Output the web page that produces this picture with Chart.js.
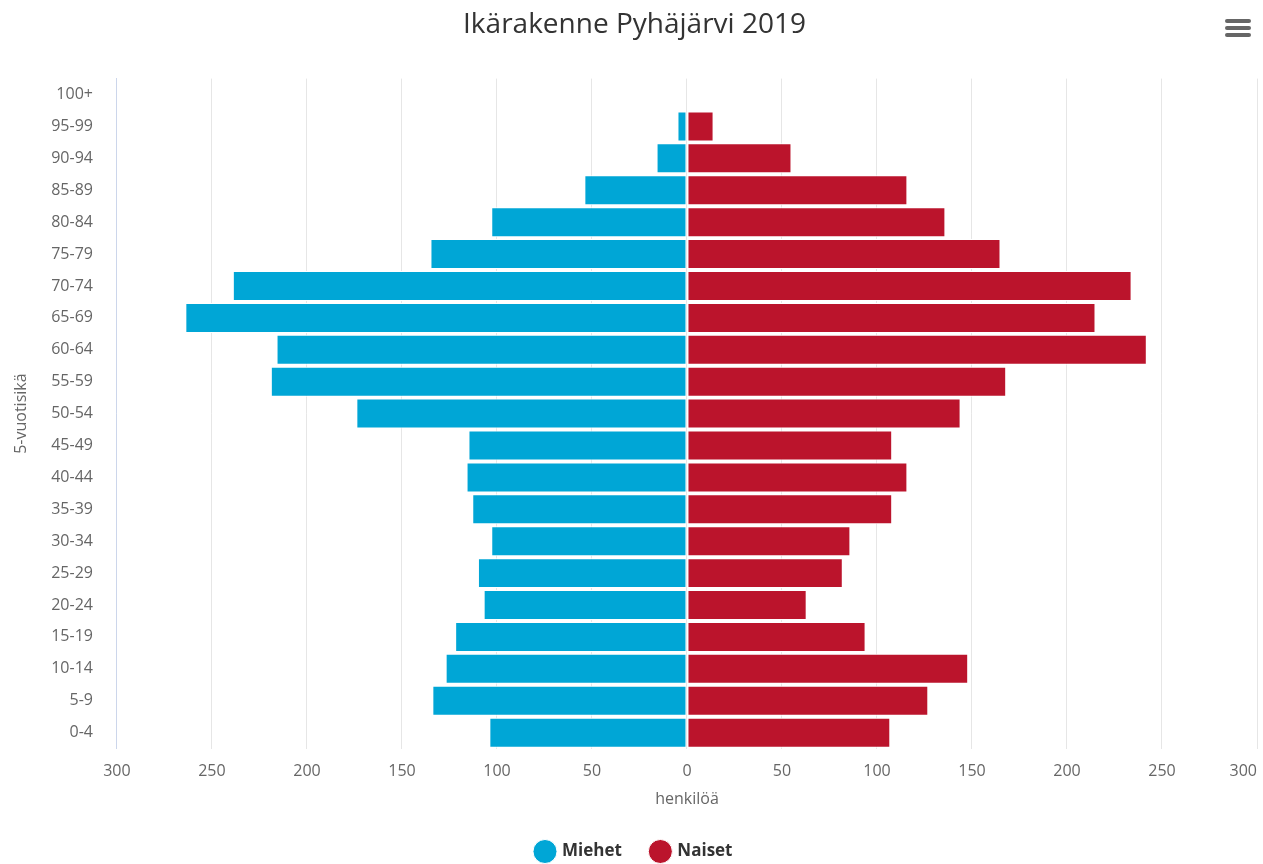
<!DOCTYPE html>
<html>
<head>
<meta charset="utf-8">
<script src="https://cdn.jsdelivr.net/npm/chart.js@4"></script>
<style>
  html, body { margin: 0; padding: 0; background: #fff; }
  #wrap { position: relative; width: 1263px; height: 864px; overflow: hidden; }
  #menu { position: absolute; right: 12px; top: 19px; width: 26px; }
  #menu div { height: 4px; background: #666; border-radius: 2px; margin-bottom: 3px; }
</style>
</head>
<body>
<div id="wrap">
  <canvas id="pyramid" width="1263" height="864"></canvas>
  <div id="menu"><div></div><div></div><div></div></div>
</div>
<script>
const ages = ['100+', '95-99', '90-94', '85-89', '80-84', '75-79', '70-74', '65-69', '60-64', '55-59',
  '50-54', '45-49', '40-44', '35-39', '30-34', '25-29', '20-24', '15-19', '10-14', '5-9', '0-4'];
const men = [0, 5, 16, 54, 103, 135, 239, 264, 216, 219, 174, 115, 116, 113, 103, 110, 107, 122, 127, 134, 104];
const women = [0, 14, 55, 116, 136, 165, 234, 215, 242, 168, 144, 108, 116, 108, 86, 82, 63, 94, 148, 127, 107];
const xTicks = [-300, -250, -200, -150, -100, -50, 0, 50, 100, 150, 200, 250, 300];

const font = "'Open Sans', sans-serif";

new Chart(document.getElementById('pyramid'), {
    type: 'bar',
    data: {
        labels: ages,
        datasets: [
            {
                label: 'Miehet',
                data: men.map(v => -v),
                backgroundColor: '#00a6d6',
                borderColor: '#ffffff',
                borderWidth: 1,
                borderSkipped: false,
                barPercentage: 0.94,
                categoryPercentage: 1
            },
            {
                label: 'Naiset',
                data: women,
                backgroundColor: '#bb142c',
                borderColor: '#ffffff',
                borderWidth: 1,
                borderSkipped: false,
                barPercentage: 0.94,
                categoryPercentage: 1
            }
        ]
    },
    options: {
        indexAxis: 'y',
        responsive: false,
        animation: false,
        layout: { padding: { left: 12, right: 6, top: 4, bottom: -6 } },
        scales: {
            x: {
                stacked: true,
                min: -300,
                max: 300,
                afterBuildTicks: (axis) => { axis.ticks = xTicks.map(v => ({ value: v })); },
                // last label sits inside the plot, like the original
                afterFit: (axis) => { axis.paddingRight = 0; },
                ticks: {
                    callback: (v) => v === 300 ? '300\u2007\u2007\u2007' : Math.abs(v),
                    color: '#666',
                    font: { family: font, size: 16 },
                    padding: 13
                },
                grid: { color: '#e6e6e6', drawTicks: false },
                border: { display: false },
                title: {
                    display: true,
                    text: 'henkilöä',
                    color: '#666',
                    font: { family: font, size: 16 },
                    padding: { top: -4, bottom: 4 }
                }
            },
            y: {
                stacked: true,
                ticks: {
                    color: '#666',
                    font: { family: font, size: 16 },
                    padding: 16
                },
                grid: { display: false },
                border: { color: '#ccd6eb' },
                title: {
                    display: true,
                    text: '5-vuotisikä',
                    color: '#666',
                    font: { family: font, size: 16 },
                    padding: { top: 0, bottom: 4 }
                }
            }
        },
        plugins: {
            title: {
                display: true,
                text: 'Ikärakenne Pyhäjärvi 2019',
                color: '#333',
                font: { family: font, size: 28, weight: 'normal' },
                padding: { top: 4, bottom: 37 }
            },
            legend: {
                position: 'bottom',
                labels: {
                    usePointStyle: true,
                    pointStyle: 'circle',
                    boxWidth: 18,
                    boxHeight: 18,
                    padding: 30,
                    color: '#333',
                    font: { family: font, size: 17, weight: 'bold' }
                }
            },
            tooltip: { enabled: false }
        }
    }
});
</script>
</body>
</html>
